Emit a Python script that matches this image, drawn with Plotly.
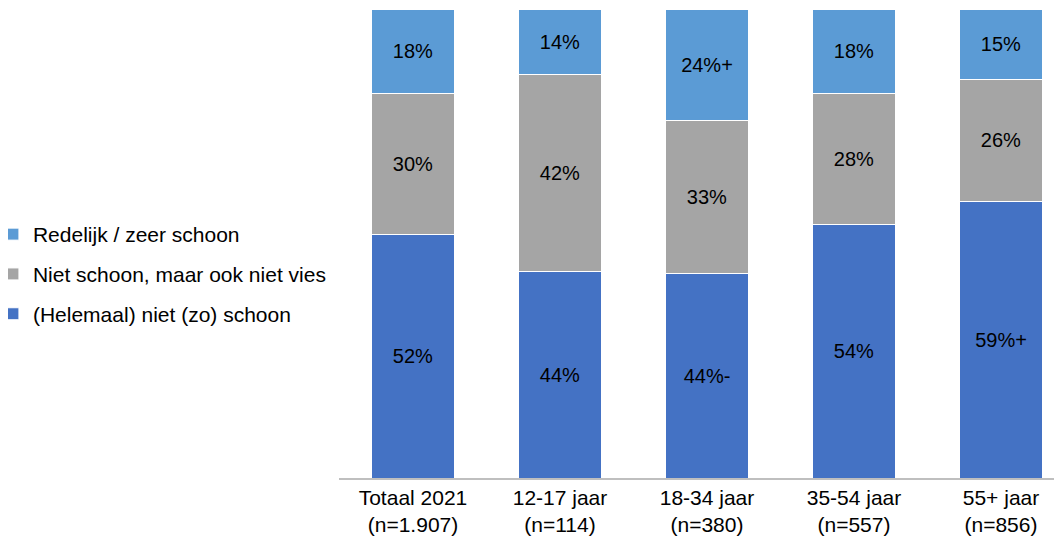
import plotly.graph_objects as go

# --- data ---
categories = ["Totaal 2021<br>(n=1.907)", "12-17 jaar<br>(n=114)", "18-34 jaar<br>(n=380)",
              "35-54 jaar<br>(n=557)", "55+ jaar<br>(n=856)"]
niet_schoon = [52, 44, 44, 54, 59]
neutraal = [30, 42, 33, 28, 26]
schoon = [18, 14, 24, 18, 15]
niet_schoon_labels = ["52%", "44%", "44%-", "54%", "59%+"]
neutraal_labels = ["30%", "42%", "33%", "28%", "26%"]
schoon_labels = ["18%", "14%", "24%+", "18%", "15%"]

series = [
    ("(Helemaal) niet (zo) schoon", niet_schoon, niet_schoon_labels, "#4472C4"),
    ("Niet schoon, maar ook niet vies", neutraal, neutraal_labels, "#A5A5A5"),
    ("Redelijk / zeer schoon", schoon, schoon_labels, "#5B9BD5"),
]

FONT = "Liberation Sans, Arial, sans-serif"
xpos = list(range(len(categories)))

fig = go.Figure()
for i, (name, vals, labels, color) in enumerate(series):
    fig.add_trace(go.Bar(
        x=xpos, y=vals, name=name, legendgroup=f"g{i}",
        legendrank=len(series) - i,
        marker=dict(color=color, line=dict(color="white", width=1)),
        text=labels, textposition="inside", insidetextanchor="middle",
        textfont=dict(size=20, color="#000000", family=FONT),
        textangle=0, width=0.57, hoverinfo="skip",
    ))

# page body has an 8px margin, so the figure is sized 8px smaller
fig.update_layout(
    barmode="stack", barnorm="percent",
    width=1054, height=532,
    margin=dict(l=0, r=0, t=1, b=62, autoexpand=False),
    paper_bgcolor="white", plot_bgcolor="white",
    font=dict(family=FONT, size=21, color="#000000"),
    legend=dict(
        x=-0.0143, y=0.435, xanchor="left", yanchor="middle",
        traceorder="grouped", tracegroupgap=9.5,
        font=dict(size=21, family=FONT, color="#000000"), itemwidth=30,
    ),
    xaxis=dict(
        domain=[0.3145, 1.0], range=[-0.5, 4.415],
        tickvals=xpos, ticktext=categories,
        showline=True, linecolor="#BFBFBF", linewidth=1.5,
        showgrid=False, zeroline=False, ticks="",
        tickfont=dict(size=21, family=FONT, color="#000000"),
    ),
    yaxis=dict(range=[0, 100], visible=False, showgrid=False),
)

fig.write_html("out.html")
